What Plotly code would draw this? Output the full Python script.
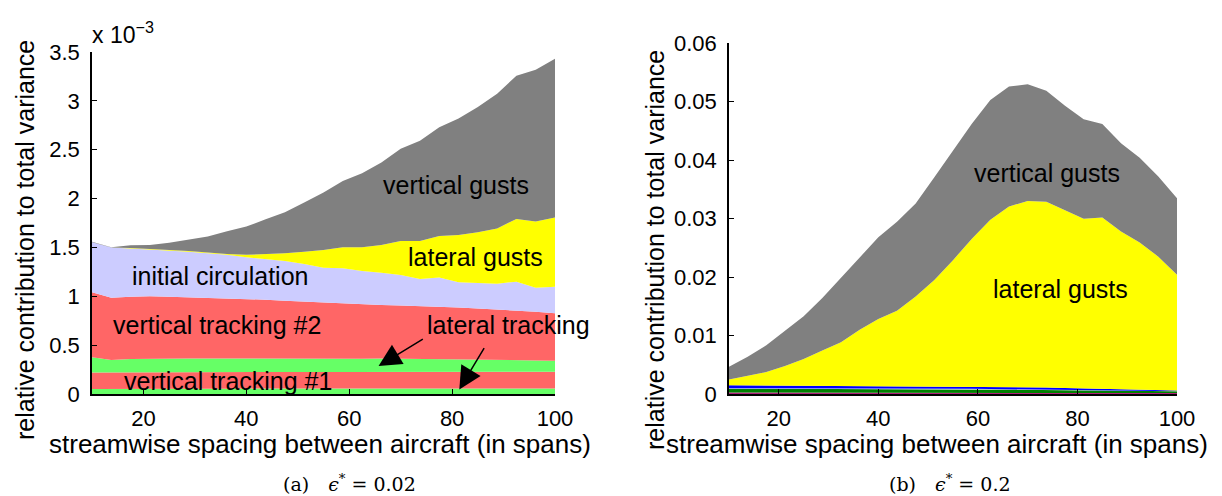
import plotly.graph_objects as go

# ---------------- data ----------------
spacing = [10, 13.75, 17.5, 21.25, 25, 28.75, 32.5, 36.25, 40, 43.75, 47.5, 51.25,
           55, 58.75, 62.5, 66.25, 70, 73.75, 77.5, 81.25, 85, 88.75, 92.5, 96.25, 100]

# (a) eps* = 0.02, contributions in units of 1e-3 (bottom -> top)
a_lat_track_1 = [0.050, 0.052, 0.053, 0.054, 0.054, 0.055, 0.055, 0.055, 0.055, 0.056, 0.056, 0.056,
                 0.056, 0.056, 0.057, 0.057, 0.057, 0.057, 0.057, 0.057, 0.057, 0.057, 0.057, 0.057, 0.057]
a_vert_track_1 = [0.171, 0.170, 0.170, 0.168, 0.169, 0.169, 0.169, 0.170, 0.170, 0.169, 0.170, 0.170,
                  0.170, 0.170, 0.170, 0.170, 0.170, 0.170, 0.170, 0.171, 0.171, 0.171, 0.171, 0.171, 0.171]
a_lat_track_2 = [0.154, 0.125, 0.135, 0.140, 0.142, 0.140, 0.139, 0.137, 0.137, 0.138, 0.138, 0.137,
                 0.136, 0.135, 0.135, 0.136, 0.134, 0.133, 0.132, 0.130, 0.128, 0.124, 0.120, 0.116, 0.112]
a_vert_track_2 = [0.666, 0.639, 0.638, 0.638, 0.630, 0.626, 0.622, 0.618, 0.613, 0.602, 0.591, 0.582,
                  0.573, 0.564, 0.556, 0.549, 0.544, 0.540, 0.534, 0.527, 0.519, 0.513, 0.507, 0.498, 0.486]
a_init_circ = [0.512, 0.512, 0.494, 0.480, 0.473, 0.465, 0.455, 0.445, 0.425, 0.415, 0.405, 0.385,
               0.358, 0.362, 0.341, 0.330, 0.313, 0.277, 0.298, 0.258, 0.258, 0.264, 0.295, 0.246, 0.272]
a_lat_gusts = [0.000, 0.000, 0.003, 0.005, 0.007, 0.008, 0.008, 0.007, 0.025, 0.050, 0.080, 0.125,
               0.181, 0.215, 0.243, 0.284, 0.349, 0.390, 0.427, 0.485, 0.523, 0.564, 0.642, 0.677, 0.708]
a_vert_gusts = [0.006, 0.004, 0.029, 0.041, 0.074, 0.114, 0.163, 0.234, 0.288, 0.359, 0.421, 0.504,
                0.588, 0.679, 0.758, 0.843, 0.942, 1.024, 1.113, 1.192, 1.280, 1.380, 1.465, 1.554, 1.625]

# (b) eps* = 0.2 (bottom -> top)
b_layer_1 = [0.00025, 0.00025, 0.00024, 0.00024, 0.00024, 0.00023, 0.00023, 0.00023, 0.00022, 0.00022,
             0.00022, 0.00021, 0.00021, 0.00021, 0.00020, 0.00020, 0.00020, 0.00019, 0.00019, 0.00018,
             0.00018, 0.00017, 0.00017, 0.00016, 0.00015]
b_layer_2 = [0.00065, 0.00065, 0.00064, 0.00064, 0.00063, 0.00063, 0.00062, 0.00062, 0.00061, 0.00061,
             0.00060, 0.00060, 0.00059, 0.00058, 0.00056, 0.00054, 0.00052, 0.00050, 0.00047, 0.00044,
             0.00041, 0.00038, 0.00035, 0.00032, 0.00030]
b_layer_3 = [0.00010, 0.00010, 0.00010, 0.00010, 0.00010, 0.00010, 0.00010, 0.00010, 0.00010, 0.00010,
             0.00010, 0.00010, 0.00009, 0.00009, 0.00008, 0.00008, 0.00007, 0.00007, 0.00006, 0.00006,
             0.00006, 0.00005, 0.00005, 0.00005, 0.00005]
b_layer_4 = [0.00050, 0.00048, 0.00049, 0.00047, 0.00046, 0.00046, 0.00045, 0.00043, 0.00044, 0.00042,
             0.00041, 0.00041, 0.00041, 0.00038, 0.00038, 0.00036, 0.00035, 0.00034, 0.00031, 0.00028,
             0.00024, 0.00021, 0.00017, 0.00014, 0.00010]
b_lat_gusts = [0.00100, 0.00159, 0.00228, 0.00332, 0.00457, 0.00602, 0.00746, 0.00962, 0.01148, 0.01291,
               0.01537, 0.01818, 0.02160, 0.02524, 0.02858, 0.03092, 0.03186, 0.03180, 0.03037, 0.02904,
               0.02931, 0.02699, 0.02516, 0.02283, 0.01980]
b_vert_gusts = [0.00216, 0.00330, 0.00460, 0.00597, 0.00729, 0.00898, 0.01097, 0.01241, 0.01396, 0.01521,
                0.01590, 0.01760, 0.01880, 0.01970, 0.02050, 0.02050, 0.02000, 0.01900, 0.01790, 0.01700,
                0.01600, 0.01510, 0.01450, 0.01370, 0.01310]

x_ticks = [20, 40, 60, 80, 100]
a_y_ticks = [0, 0.5, 1, 1.5, 2, 2.5, 3, 3.5]
a_y_labels = ["0", "0.5", "1", "1.5", "2", "2.5", "3", "3.5"]
b_y_ticks = [0, 0.01, 0.02, 0.03, 0.04, 0.05, 0.06]
b_y_labels = ["0", "0.01", "0.02", "0.03", "0.04", "0.05", "0.06"]

# ---------------- figure ----------------
W, H = 1222, 496
FONT = "Liberation Sans, Arial, Helvetica, sans-serif"
SERIF = "DejaVu Serif, Liberation Serif, serif"

fig = go.Figure()

a_layers = [
    ("lateral tracking 1", a_lat_track_1, "#66ff66"),
    ("vertical tracking #1", a_vert_track_1, "#ff6666"),
    ("lateral tracking 2", a_lat_track_2, "#66ff66"),
    ("vertical tracking #2", a_vert_track_2, "#ff6666"),
    ("initial circulation", a_init_circ, "#ccccff"),
    ("lateral gusts", a_lat_gusts, "#ffff00"),
    ("vertical gusts", a_vert_gusts, "#808080"),
]
for name, vals, col in a_layers:
    fig.add_trace(go.Scatter(x=spacing, y=vals, name=name, mode="lines",
                             stackgroup="a", line=dict(width=0, color=col),
                             fillcolor=col, xaxis="x", yaxis="y", showlegend=False))

b_layers = [
    ("layer 1", b_layer_1, "#b0207a"),
    ("layer 2", b_layer_2, "#008000"),
    ("layer 3", b_layer_3, "#ccccff"),
    ("layer 4", b_layer_4, "#0000ff"),
    ("lateral gusts", b_lat_gusts, "#ffff00"),
    ("vertical gusts", b_vert_gusts, "#808080"),
]
for name, vals, col in b_layers:
    fig.add_trace(go.Scatter(x=spacing, y=vals, name=name, mode="lines",
                             stackgroup="b", line=dict(width=0, color=col),
                             fillcolor=col, xaxis="x2", yaxis="y2", showlegend=False))

def px_x(p):
    return p / W

def px_y(p):
    return (H - p) / H

axis_common = dict(showline=True, linecolor="black", linewidth=1.5, ticks="inside",
                   ticklen=5, tickwidth=1.2, tickcolor="black", showgrid=False,
                   zeroline=False, mirror=False, automargin=False,
                   tickfont=dict(family=FONT, size=22, color="black"))

fig.update_layout(
    width=W, height=H, autosize=False, margin=dict(l=0, r=0, t=0, b=0, autoexpand=False),
    paper_bgcolor="white", plot_bgcolor="white",
    xaxis=dict(domain=[px_x(92), px_x(555)], range=[10, 100], tickvals=x_ticks,
               anchor="y", ticklabelstandoff=4, **axis_common),
    yaxis=dict(domain=[px_y(394), px_y(52)], range=[0, 3.5], tickvals=a_y_ticks,
               ticktext=a_y_labels, anchor="x", ticklabelstandoff=6, **axis_common),
    xaxis2=dict(domain=[px_x(729), px_x(1177)], range=[10, 100], tickvals=x_ticks,
                anchor="y2", ticklabelstandoff=4, **axis_common),
    yaxis2=dict(domain=[px_y(394), px_y(43.3)], range=[0, 0.06], tickvals=b_y_ticks,
                ticktext=b_y_labels, anchor="x2", ticklabelstandoff=6, **axis_common),
)

ann_font = dict(family=FONT, size=25, color="black")
xtitle_font = dict(family=FONT, size=26, color="black")
ytitle_font = dict(family=FONT, size=25, color="black")
cap_font = dict(family=SERIF, size=19, color="black")

def label(x, y, text, xr, yr, font=ann_font, **kw):
    d = dict(x=x, y=y, xref=xr, yref=yr, text=text, showarrow=False, font=font,
             xanchor="center", yanchor="middle")
    d.update(kw)
    return d

annotations = [
    label(80.8, 2.14, "vertical gusts", "x", "y"),
    label(84.6, 1.397, "lateral gusts", "x", "y"),
    label(34.95, 1.208, "initial circulation", "x", "y"),
    label(34.2, 0.706, "vertical tracking #2", "x", "y"),
    label(91.0, 0.706, "lateral tracking", "x", "y"),
    label(36.5, 0.132, "vertical tracking #1", "x", "y"),
    dict(x=65.7, y=0.286, xref="x", yref="y", ax=74.6, ay=0.570, axref="x", ayref="y",
         text="", showarrow=True, arrowhead=2, arrowsize=3, arrowwidth=1.5, arrowcolor="black"),
    dict(x=81.4, y=0.047, xref="x", yref="y", ax=86.4, ay=0.484, axref="x", ayref="y",
         text="", showarrow=True, arrowhead=2, arrowsize=3, arrowwidth=1.5, arrowcolor="black"),
    label(73.9, 0.0378, "vertical gusts", "x2", "y2"),
    label(76.5, 0.0180, "lateral gusts", "x2", "y2"),
    label(px_x(90), px_y(33), "x 10<sup>\u22123</sup>", "paper", "paper",
          font=dict(family=FONT, size=23, color="black"), xanchor="left"),
    label(px_x(320), px_y(444), "streamwise spacing between aircraft (in spans)", "paper", "paper",
          font=xtitle_font),
    label(px_x(937), px_y(444), "streamwise spacing between aircraft (in spans)", "paper", "paper",
          font=xtitle_font),
    label(px_x(25), px_y(240), "relative contribution to total variance", "paper", "paper",
          font=ytitle_font, textangle=-90),
    label(px_x(655), px_y(250), "relative contribution to total variance", "paper", "paper",
          font=ytitle_font, textangle=-90),
    label(px_x(349), px_y(483), "(a)\u2003<i>\u03f5</i><sup>*</sup> = 0.02", "paper", "paper", font=cap_font),
    label(px_x(950), px_y(483), "(b)\u2003<i>\u03f5</i><sup>*</sup> = 0.2", "paper", "paper", font=cap_font),
]
fig.update_layout(annotations=annotations)

fig.write_html("out.html", config={"displayModeBar": False},
               post_script="document.body.style.margin='0';")
